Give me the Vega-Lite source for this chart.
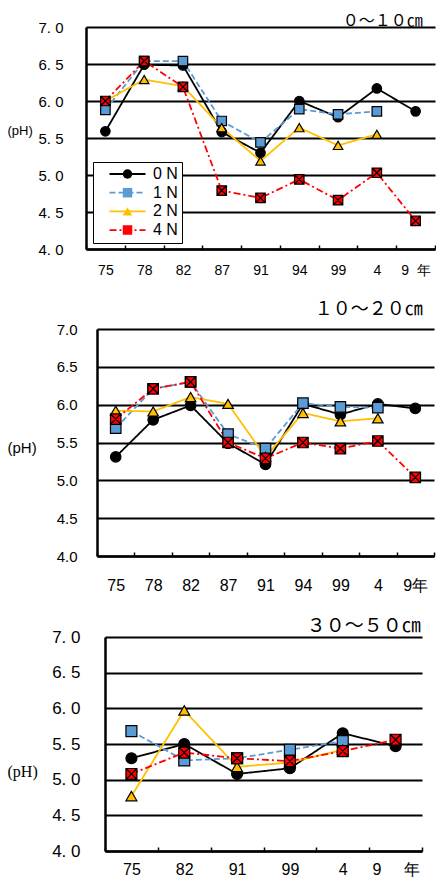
{
  "$schema": "https://vega.github.io/schema/vega-lite/v6.json",
  "padding": {"left": 0, "top": 13, "right": 0, "bottom": 0},
  "background": "white",
  "config": {
    "view": {"stroke": null},
    "font": "Liberation Sans",
    "axis": {"labelColor": "black", "titleColor": "black", "labelFlush": false, "labelOverlap": false, "labelBound": false}
  },
  "datasets": {
    "d1": [
      {"year": "75", "series": "0 N", "ph": 5.59}, {"year": "78", "series": "0 N", "ph": 6.49}, {"year": "82", "series": "0 N", "ph": 6.48}, {"year": "87", "series": "0 N", "ph": 5.58}, {"year": "91", "series": "0 N", "ph": 5.30}, {"year": "94", "series": "0 N", "ph": 6.00}, {"year": "99", "series": "0 N", "ph": 5.78}, {"year": "4", "series": "0 N", "ph": 6.17}, {"year": "9 年", "series": "0 N", "ph": 5.86},
      {"year": "75", "series": "1 N", "ph": 5.88}, {"year": "78", "series": "1 N", "ph": 6.54}, {"year": "82", "series": "1 N", "ph": 6.54}, {"year": "87", "series": "1 N", "ph": 5.73}, {"year": "91", "series": "1 N", "ph": 5.44}, {"year": "94", "series": "1 N", "ph": 5.89}, {"year": "99", "series": "1 N", "ph": 5.82}, {"year": "4", "series": "1 N", "ph": 5.86},
      {"year": "75", "series": "2 N", "ph": 6.00}, {"year": "78", "series": "2 N", "ph": 6.29}, {"year": "82", "series": "2 N", "ph": 6.20}, {"year": "87", "series": "2 N", "ph": 5.64}, {"year": "91", "series": "2 N", "ph": 5.19}, {"year": "94", "series": "2 N", "ph": 5.64}, {"year": "99", "series": "2 N", "ph": 5.40}, {"year": "4", "series": "2 N", "ph": 5.55},
      {"year": "75", "series": "4 N", "ph": 6.00}, {"year": "78", "series": "4 N", "ph": 6.54}, {"year": "82", "series": "4 N", "ph": 6.19}, {"year": "87", "series": "4 N", "ph": 4.79}, {"year": "91", "series": "4 N", "ph": 4.69}, {"year": "94", "series": "4 N", "ph": 4.94}, {"year": "99", "series": "4 N", "ph": 4.66}, {"year": "4", "series": "4 N", "ph": 5.03}, {"year": "9 年", "series": "4 N", "ph": 4.38}
    ],
    "d2": [
      {"year": "75", "series": "0 N", "ph": 5.31}, {"year": "78", "series": "0 N", "ph": 5.80}, {"year": "82", "series": "0 N", "ph": 5.99}, {"year": "87", "series": "0 N", "ph": 5.49}, {"year": "91", "series": "0 N", "ph": 5.21}, {"year": "94", "series": "0 N", "ph": 6.01}, {"year": "99", "series": "0 N", "ph": 5.87}, {"year": "4", "series": "0 N", "ph": 6.01}, {"year": "9年", "series": "0 N", "ph": 5.95},
      {"year": "75", "series": "1 N", "ph": 5.69}, {"year": "78", "series": "1 N", "ph": 6.21}, {"year": "82", "series": "1 N", "ph": 6.30}, {"year": "87", "series": "1 N", "ph": 5.61}, {"year": "91", "series": "1 N", "ph": 5.42}, {"year": "94", "series": "1 N", "ph": 6.02}, {"year": "99", "series": "1 N", "ph": 5.97}, {"year": "4", "series": "1 N", "ph": 5.96},
      {"year": "75", "series": "2 N", "ph": 5.92}, {"year": "78", "series": "2 N", "ph": 5.91}, {"year": "82", "series": "2 N", "ph": 6.10}, {"year": "87", "series": "2 N", "ph": 6.01}, {"year": "91", "series": "2 N", "ph": 5.31}, {"year": "94", "series": "2 N", "ph": 5.89}, {"year": "99", "series": "2 N", "ph": 5.78}, {"year": "4", "series": "2 N", "ph": 5.82},
      {"year": "75", "series": "4 N", "ph": 5.81}, {"year": "78", "series": "4 N", "ph": 6.21}, {"year": "82", "series": "4 N", "ph": 6.30}, {"year": "87", "series": "4 N", "ph": 5.50}, {"year": "91", "series": "4 N", "ph": 5.29}, {"year": "94", "series": "4 N", "ph": 5.50}, {"year": "99", "series": "4 N", "ph": 5.42}, {"year": "4", "series": "4 N", "ph": 5.52}, {"year": "9年", "series": "4 N", "ph": 5.04}
    ],
    "d3": [
      {"year": "75", "series": "0 N", "ph": 5.30}, {"year": "82", "series": "0 N", "ph": 5.50}, {"year": "91", "series": "0 N", "ph": 5.08}, {"year": "99", "series": "0 N", "ph": 5.16}, {"year": "4", "series": "0 N", "ph": 5.65}, {"year": "9 年", "series": "0 N", "ph": 5.47},
      {"year": "75", "series": "1 N", "ph": 5.68}, {"year": "82", "series": "1 N", "ph": 5.27}, {"year": "91", "series": "1 N", "ph": 5.30}, {"year": "99", "series": "1 N", "ph": 5.42}, {"year": "4", "series": "1 N", "ph": 5.54},
      {"year": "75", "series": "2 N", "ph": 4.77}, {"year": "82", "series": "2 N", "ph": 5.97}, {"year": "91", "series": "2 N", "ph": 5.18}, {"year": "99", "series": "2 N", "ph": 5.24}, {"year": "4", "series": "2 N", "ph": 5.42},
      {"year": "75", "series": "4 N", "ph": 5.08}, {"year": "82", "series": "4 N", "ph": 5.38}, {"year": "91", "series": "4 N", "ph": 5.30}, {"year": "99", "series": "4 N", "ph": 5.26}, {"year": "4", "series": "4 N", "ph": 5.40}, {"year": "9 年", "series": "4 N", "ph": 5.56}
    ]
  },
  "spacing": 24,
  "resolve": {
    "scale": {"stroke": "independent", "fill": "independent", "shape": "independent", "strokeDash": "independent", "x": "independent", "y": "independent"},
    "legend": {"stroke": "independent", "fill": "independent", "shape": "independent", "strokeDash": "independent"}
  },
  "vconcat": [
    {
      "spacing": 0,
      "resolve": {
        "scale": {"stroke": "independent", "fill": "independent", "shape": "independent", "strokeDash": "independent", "x": "independent", "y": "independent"},
        "legend": {"stroke": "independent", "fill": "independent", "shape": "independent", "strokeDash": "independent"}
      },
      "hconcat": [
        {"width": 7, "height": 1, "view": {"fill": "white", "stroke": null}, "data": {"values": []}, "mark": {"type": "point", "opacity": 0}, "encoding": {}},
        {
          "width": 349, "height": 222,
          "title": {"text": "０～１０㎝", "anchor": "end", "dx": -13, "fontSize": 16, "font": "Noto Sans CJK JP", "fontWeight": "normal", "color": "black", "baseline": "alphabetic", "offset": -22},
          "data": {"name": "d1"},
          "encoding": {
            "x": {"field": "year", "type": "nominal", "sort": ["75", "78", "82", "87", "91", "94", "99", "4", "9 年"],
              "scale": {"type": "band", "paddingInner": 0, "paddingOuter": 0},
              "axis": {"title": null, "labelAngle": 0, "tickBand": "extent", "ticks": true, "tickSize": -4, "tickColor": "black", "tickWidth": 1.5, "domainColor": "black", "domainWidth": 2.5, "labelFont": "Liberation Sans", "labelFontSize": 14, "labelPadding": 18, "grid": false,
                "labelExpr": "datum.label == '9 年' ? '\u00a0\u00a0\u00a0\u00a09\u00a0\u00a0年' : datum.label"}},
            "y": {"field": "ph", "type": "quantitative", "scale": {"domain": [4, 7], "nice": false, "zero": false},
              "axis": {"values": [4, 4.5, 5, 5.5, 6, 6.5, 7], "grid": true, "gridColor": "black", "gridWidth": 2, "gridOpacity": 1, "domainColor": "black", "domainWidth": 2.5, "ticks": false,
                "labelExpr": "replace(format(datum.value, '.1f'), '.', '. ')", "labelFont": "Liberation Sans", "labelFontSize": 15, "labelPadding": 23,
                "title": "(pH)", "titleAngle": 0, "titleAlign": "left", "titleBaseline": "middle", "titleX": -79, "titleY": 103, "titleFont": "Liberation Sans", "titleFontSize": 13, "titleFontWeight": "normal"}}
          },
          "layer": [
            {
              "mark": {"type": "line", "strokeWidth": 1.8},
              "encoding": {
                "stroke": {"field": "series", "type": "nominal", "scale": {"domain": ["0 N", "1 N", "2 N", "4 N"], "range": ["#000000", "#5B9BD5", "#FFC000", "#FF0000"]},
                  "legend": {"orient": "none", "legendX": 7, "legendY": 135, "title": null, "symbolType": "M-4,0L4,0", "symbolSize": 81, "symbolStrokeWidth": 1.8, "padding": 4, "rowPadding": 2.7, "symbolOffset": 22.5, "labelOffset": 17.5, "labelFont": "Liberation Sans", "labelFontSize": 16, "labelColor": "black", "strokeColor": "black", "fillColor": "white", "labelExpr": "datum.label + '\u00a0\u00a0\u00a0\u00a0'"}},
                "strokeDash": {"field": "series", "type": "nominal", "scale": {"domain": ["0 N", "1 N", "2 N", "4 N"], "range": [[1, 0], [6, 3], [1, 0], [7, 3, 2, 3]]},
                  "legend": {"orient": "none", "legendX": 7, "legendY": 135, "title": null, "symbolType": "M-4,0L4,0", "symbolSize": 81, "symbolStrokeWidth": 1.8, "padding": 4, "rowPadding": 2.7, "symbolOffset": 22.5, "labelOffset": 17.5, "labelFont": "Liberation Sans", "labelFontSize": 16, "labelColor": "black", "strokeColor": "black", "fillColor": "white", "labelExpr": "datum.label + '\u00a0\u00a0\u00a0\u00a0'"}}
              }
            },
            {
              "mark": {"type": "point", "filled": true, "size": 90, "stroke": "black", "strokeWidth": 1.2, "opacity": 1},
              "encoding": {
                "fill": {"field": "series", "type": "nominal", "scale": {"range": ["#000000", "#5B9BD5", "#FFC000", "#FF0000"]},
                  "legend": {"orient": "none", "legendX": 7, "legendY": 135, "title": null, "symbolSize": 90, "symbolStrokeWidth": 1.2, "symbolStrokeColor": "black", "padding": 4, "rowPadding": 2.7, "symbolOffset": 22.5, "labelOffset": 17.5, "labelFont": "Liberation Sans", "labelFontSize": 16, "labelColor": "transparent", "zindex": 1, "labelExpr": "datum.label + '\u00a0\u00a0\u00a0\u00a0'",
                    "encode": {"symbols": {"update": {"stroke": {"value": "black"}, "strokeWidth": {"value": 1.2}, "size": {"value": 90}, "opacity": {"value": 1}}}}}},
                "shape": {"field": "series", "type": "nominal", "scale": {"range": ["circle", "square", "triangle-up", "M-1,-1H1V1H-1ZM-1,-1L1,1M1,-1L-1,1"]},
                  "legend": {"orient": "none", "legendX": 7, "legendY": 135, "title": null, "symbolSize": 90, "symbolStrokeWidth": 1.2, "symbolStrokeColor": "black", "padding": 4, "rowPadding": 2.7, "symbolOffset": 22.5, "labelOffset": 17.5, "labelFont": "Liberation Sans", "labelFontSize": 16, "labelColor": "transparent", "zindex": 1, "labelExpr": "datum.label + '\u00a0\u00a0\u00a0\u00a0'",
                    "encode": {"symbols": {"update": {"stroke": {"value": "black"}, "strokeWidth": {"value": 1.2}, "size": {"value": 90}, "opacity": {"value": 1}}}}}}
              }
            }
          ]
        }
      ]
    },
    {
      "spacing": 0,
      "resolve": {
        "scale": {"stroke": "independent", "fill": "independent", "shape": "independent", "strokeDash": "independent", "x": "independent", "y": "independent"}
      },
      "hconcat": [
        {"width": 7, "height": 1, "view": {"fill": "white", "stroke": null}, "data": {"values": []}, "mark": {"type": "point", "opacity": 0}, "encoding": {}},
        {
          "width": 337, "height": 227,
          "title": {"text": "１０～２０㎝", "anchor": "end", "dx": -12, "fontSize": 18, "font": "Noto Sans CJK JP", "fontWeight": "normal", "color": "black", "baseline": "alphabetic", "offset": -11},
          "data": {"name": "d2"},
          "encoding": {
            "x": {"field": "year", "type": "nominal", "sort": ["75", "78", "82", "87", "91", "94", "99", "4", "9年"],
              "scale": {"type": "band", "paddingInner": 0, "paddingOuter": 0},
              "axis": {"title": null, "labelAngle": 0, "tickBand": "extent", "ticks": true, "tickSize": -4, "tickColor": "black", "tickWidth": 1.5, "domainColor": "black", "domainWidth": 2.5, "labelFont": "Liberation Sans", "labelFontSize": 16, "labelPadding": 25, "grid": false}},
            "y": {"field": "ph", "type": "quantitative", "scale": {"domain": [4, 7], "nice": false, "zero": false},
              "axis": {"values": [4, 4.5, 5, 5.5, 6, 6.5, 7], "grid": true, "gridColor": "black", "gridWidth": 2, "gridOpacity": 1, "domainColor": "black", "domainWidth": 2.5, "ticks": false,
                "format": ".1f", "labelFont": "Liberation Sans", "labelFontSize": 15, "labelPadding": 20,
                "title": "(pH)", "titleAngle": 0, "titleAlign": "left", "titleBaseline": "middle", "titleX": -90, "titleY": 118, "titleFont": "Liberation Sans", "titleFontSize": 15, "titleFontWeight": "normal"}}
          },
          "layer": [
            {
              "mark": {"type": "line", "strokeWidth": 1.8},
              "encoding": {
                "stroke": {"field": "series", "type": "nominal", "scale": {"domain": ["0 N", "1 N", "2 N", "4 N"], "range": ["#000000", "#5B9BD5", "#FFC000", "#FF0000"]}, "legend": null},
                "strokeDash": {"field": "series", "type": "nominal", "scale": {"domain": ["0 N", "1 N", "2 N", "4 N"], "range": [[1, 0], [6, 3], [1, 0], [7, 3, 2, 3]]}, "legend": null}
              }
            },
            {
              "mark": {"type": "point", "filled": true, "size": 110, "stroke": "black", "strokeWidth": 1.2, "opacity": 1},
              "encoding": {
                "fill": {"field": "series", "type": "nominal", "scale": {"range": ["#000000", "#5B9BD5", "#FFC000", "#FF0000"]}, "legend": null},
                "shape": {"field": "series", "type": "nominal", "scale": {"range": ["circle", "square", "triangle-up", "M-1,-1H1V1H-1ZM-1,-1L1,1M1,-1L-1,1"]}, "legend": null}
              }
            }
          ]
        }
      ]
    },
    {
      "spacing": 0,
      "resolve": {
        "scale": {"stroke": "independent", "fill": "independent", "shape": "independent", "strokeDash": "independent", "x": "independent", "y": "independent"}
      },
      "hconcat": [
        {"width": 7, "height": 1, "view": {"fill": "white", "stroke": null}, "data": {"values": []}, "mark": {"type": "point", "opacity": 0}, "encoding": {}},
        {
          "width": 317, "height": 214,
          "title": {"text": "３０～５０㎝", "anchor": "end", "dx": -2, "fontSize": 19, "font": "Noto Sans CJK JP", "fontWeight": "normal", "color": "black", "baseline": "alphabetic", "offset": -23},
          "data": {"name": "d3"},
          "encoding": {
            "x": {"field": "year", "type": "nominal", "sort": ["75", "82", "91", "99", "4", "9 年"],
              "scale": {"type": "band", "paddingInner": 0, "paddingOuter": 0},
              "axis": {"title": null, "labelAngle": 0, "tickBand": "extent", "ticks": true, "tickSize": -4, "tickColor": "black", "tickWidth": 1.5, "domainColor": "black", "domainWidth": 2.5, "labelFont": "Liberation Sans", "labelFontSize": 16, "labelPadding": 14, "grid": false,
                "labelExpr": "datum.label == '9 年' ? '\u00a0\u00a0\u00a0\u00a0\u00a0\u00a0\u00a0\u00a0\u00a09\u00a0\u00a0\u00a0\u00a0\u00a0年' : datum.label"}},
            "y": {"field": "ph", "type": "quantitative", "scale": {"domain": [4, 7], "nice": false, "zero": false},
              "axis": {"values": [4, 4.5, 5, 5.5, 6, 6.5, 7], "grid": true, "gridColor": "black", "gridWidth": 2, "gridOpacity": 1, "domainColor": "black", "domainWidth": 2.5, "ticks": false,
                "labelExpr": "replace(format(datum.value, '.1f'), '.', '. ')", "labelFont": "Liberation Sans", "labelFontSize": 17, "labelPadding": 25,
                "title": "(pH)", "titleAngle": 0, "titleAlign": "left", "titleBaseline": "middle", "titleX": -98, "titleY": 134, "titleFont": "Liberation Serif", "titleFontSize": 16, "titleFontWeight": "normal"}}
          },
          "layer": [
            {
              "mark": {"type": "line", "strokeWidth": 1.8},
              "encoding": {
                "stroke": {"field": "series", "type": "nominal", "scale": {"domain": ["0 N", "1 N", "2 N", "4 N"], "range": ["#000000", "#5B9BD5", "#FFC000", "#FF0000"]}, "legend": null},
                "strokeDash": {"field": "series", "type": "nominal", "scale": {"domain": ["0 N", "1 N", "2 N", "4 N"], "range": [[1, 0], [6, 3], [1, 0], [7, 3, 2, 3]]}, "legend": null}
              }
            },
            {
              "mark": {"type": "point", "filled": true, "size": 120, "stroke": "black", "strokeWidth": 1.2, "opacity": 1},
              "encoding": {
                "fill": {"field": "series", "type": "nominal", "scale": {"range": ["#000000", "#5B9BD5", "#FFC000", "#FF0000"]}, "legend": null},
                "shape": {"field": "series", "type": "nominal", "scale": {"range": ["circle", "square", "triangle-up", "M-1,-1H1V1H-1ZM-1,-1L1,1M1,-1L-1,1"]}, "legend": null}
              }
            }
          ]
        }
      ]
    }
  ]
}
